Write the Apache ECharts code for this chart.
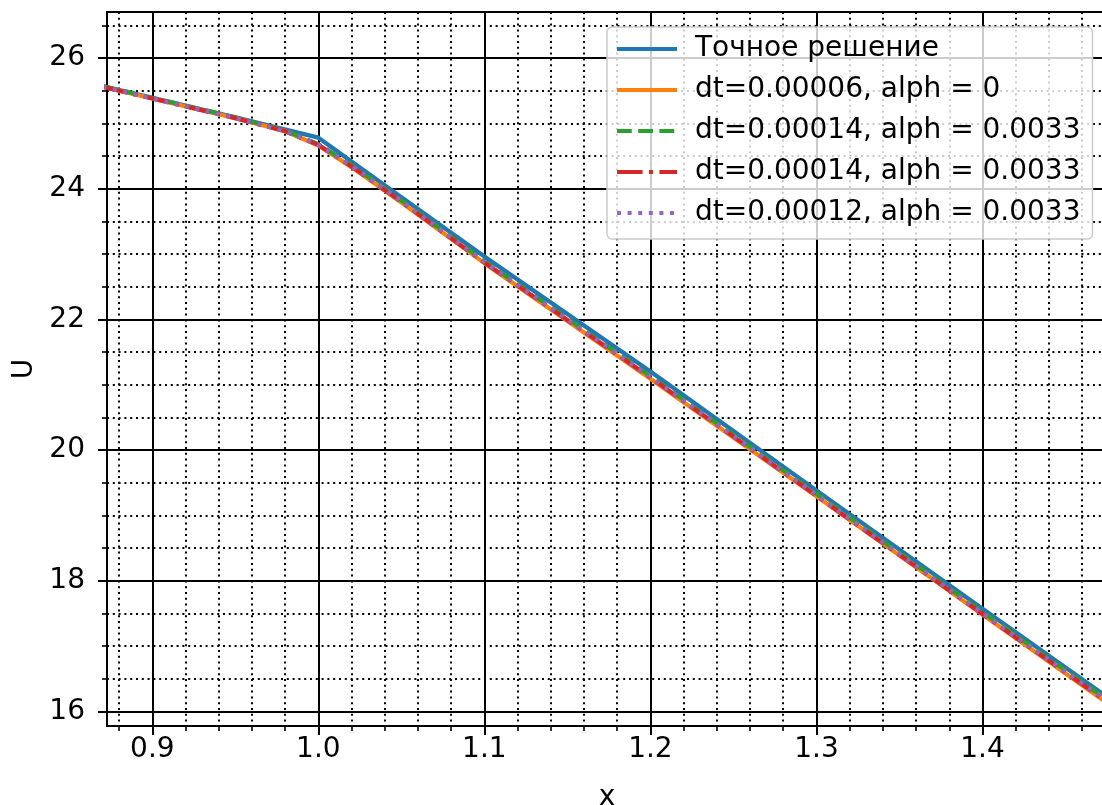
<!DOCTYPE html>
<html><head><meta charset="utf-8">
<script src="https://cdn.jsdelivr.net/npm/echarts@6/dist/echarts.min.js"></script>
<style>html,body{margin:0;padding:0;background:#fff}#c{width:1102px;height:805px}</style>
</head><body><div id="c"></div>
<script>
// ---- data ----
const exactX = [0.87, 0.90, 0.95, 1.00, 1.05, 1.10, 1.20, 1.30, 1.40, 1.48];
const exactU = [25.57, 25.39, 25.09, 24.78, 23.87, 22.96, 21.20, 19.38, 17.57, 16.13];

const numX   = [0.87, 0.90, 0.95, 0.98, 1.00, 1.02, 1.05, 1.10, 1.20, 1.30, 1.40, 1.48];
const uOrange = [25.56, 25.38, 25.08, 24.88, 24.66, 24.33, 23.79, 22.86, 21.09, 19.29, 17.48, 16.04];
const uGreen  = [25.57, 25.39, 25.09, 24.89, 24.68, 24.36, 23.82, 22.89, 21.13, 19.33, 17.52, 16.09];
const uRed    = [25.56, 25.38, 25.08, 24.88, 24.67, 24.34, 23.80, 22.87, 21.11, 19.30, 17.49, 16.06];
const uPurple = [25.56, 25.38, 25.08, 24.88, 24.67, 24.35, 23.81, 22.88, 21.12, 19.31, 17.50, 16.07];

const seriesNames = [
  'Точное решение',
  'dt=0.00006, alph = 0',
  'dt=0.00014, alph = 0.0033',
  'dt=0.00014, alph = 0.0033 ',
  'dt=0.00012, alph = 0.0033'
];

// tick values
const xMajorTicks = [0.9, 1.0, 1.1, 1.2, 1.3, 1.4];
const xMinorTicks = [0.88, 0.92, 0.94, 0.96, 0.98, 1.02, 1.04, 1.06, 1.08, 1.12, 1.14, 1.16, 1.18,
                     1.22, 1.24, 1.26, 1.28, 1.32, 1.34, 1.36, 1.38, 1.42, 1.44, 1.46];
const yMajorTicks = [16, 18, 20, 22, 24, 26];
const yMinorTicks = [16.5, 17, 17.5, 18.5, 19, 19.5, 20.5, 21, 21.5, 22.5, 23, 23.5, 24.5, 25, 25.5, 26.5];

const X_MIN = 0.8727, X_MAX = 1.475;
const Y_MIN = 15.775, Y_MAX = 26.704;

// ---- build ----
const zip = (xs, ys) => xs.map((x, i) => [x, ys[i]]);
const FONT = 'DejaVu Sans';
const FS = 28;
const colors = ['#1f77b4', '#ff7f0e', '#2ca02c', '#d62728', '#9467bd'];
const dashes = ['solid', 'solid', [14.8, 6.4], [25.6, 6.4, 4, 6.4], [4, 6.6]];
const dataSets = [zip(exactX, exactU), zip(numX, uOrange), zip(numX, uGreen), zip(numX, uRed), zip(numX, uPurple)];

function majorAxis(name, nameGap, labelMargin, fmt, ticks, min, max) {
  return {
    type: 'value', min: min, max: max, name: name, nameLocation: 'middle', nameGap: nameGap,
    nameTextStyle: { fontSize: FS, color: '#000', fontFamily: FONT },
    axisLine: { show: true, onZero: false, lineStyle: { color: '#000', width: 2 } },
    axisTick: { show: true, inside: false, length: 9, customValues: ticks, lineStyle: { color: '#000', width: 2 } },
    minorTick: { show: false },
    axisLabel: { fontSize: FS, color: '#000', fontFamily: FONT, margin: labelMargin, customValues: ticks, formatter: fmt },
    splitLine: { show: true, lineStyle: { color: '#000', width: 2 } },
    minorSplitLine: { show: false }
  };
}
function minorAxis(ticks, min, max) {
  return {
    type: 'value', min: min, max: max,
    axisLine: { show: false, onZero: false },
    axisTick: { show: true, inside: false, length: 5, customValues: ticks, lineStyle: { color: '#000', width: 1.6 } },
    axisLabel: { show: false, customValues: ticks },
    splitLine: { show: true, lineStyle: { color: '#000', width: 2, type: [2, 3.8] } },
    minorTick: { show: false }, minorSplitLine: { show: false }
  };
}

const xMinor = minorAxis(xMinorTicks, X_MIN, X_MAX); xMinor.position = 'bottom'; xMinor.offset = 0;
const yMinor = minorAxis(yMinorTicks, Y_MIN, Y_MAX); yMinor.position = 'left'; yMinor.offset = 0;

const chart = echarts.init(document.getElementById('c'), null, { renderer: 'canvas' });
chart.setOption({
  animation: false,
  backgroundColor: '#ffffff',
  grid: { left: 107, right: -5, top: 12, bottom: 79, show: true, borderColor: '#000', borderWidth: 2,
          backgroundColor: 'transparent', containLabel: false, outerBoundsMode: 'none' },
  xAxis: [
    majorAxis('x', 58, 10, v => Number(v).toFixed(1), xMajorTicks, X_MIN, X_MAX),
    xMinor
  ],
  yAxis: [
    majorAxis('U', 66, 22, v => String(Math.round(v)), yMajorTicks, Y_MIN, Y_MAX),
    yMinor
  ],
  legend: {
    data: seriesNames,
    orient: 'vertical', left: 607, top: 27,
    align: 'left',
    itemWidth: 60, itemHeight: 14, itemGap: 13,
    padding: [8, 12, 12, 8],
    backgroundColor: 'rgba(255,255,255,0.8)',
    borderColor: '#cccccc', borderWidth: 1.5, borderRadius: 5,
    itemStyle: { opacity: 0 },
    lineStyle: { width: 4 },
    formatter: n => n.trim(),
    textStyle: { fontSize: FS, color: '#000', fontFamily: FONT, lineHeight: 28, padding: [0, 0, 0, 13] }
  },
  series: seriesNames.map((n, i) => ({
    name: n, type: 'line', data: dataSets[i], symbol: 'none', showSymbol: false,
    xAxisIndex: 0, yAxisIndex: 0,
    clip: true,
    lineStyle: { color: colors[i], width: 4.3, type: dashes[i], cap: 'butt', join: 'round' },
    itemStyle: { color: colors[i] },
    z: 2 + i
  }))
});
</script></body></html>
